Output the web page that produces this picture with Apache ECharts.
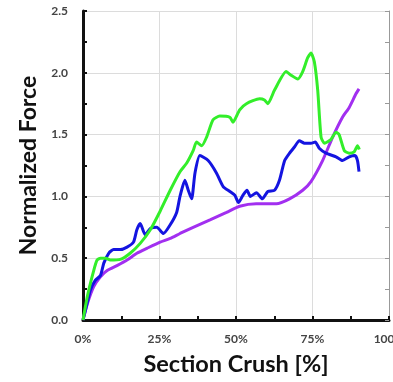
<!DOCTYPE html>
<html><head><meta charset="utf-8">
<script src="https://cdn.jsdelivr.net/npm/echarts@6/dist/echarts.min.js"></script>
<style>html,body{margin:0;padding:0;background:#fff}#c{width:393px;height:382px}</style>
</head><body><div id="c"></div>
<script>
const greenX = [0,1.5,3.5,4.6,5.7,7.5,8.9,12.2,15.4,18.7,22,25.2,28.5,31.7,33.9,36,37.1,38.8,40.4,42.5,44.7,48,49,51.2,53.4,57.7,59.3,60.4,62.6,66.4,68,70.2,71.8,73.4,74.5,75.6,76.7,77.8,78.9,81,82.7,83.7,85.4,87,88.6,89.7,90.3];
const greenY = [0,0.2,0.40,0.485,0.5,0.5,0.485,0.49,0.54,0.62,0.73,0.88,1.05,1.2,1.27,1.37,1.44,1.41,1.48,1.62,1.65,1.64,1.6,1.70,1.75,1.79,1.78,1.75,1.86,2.01,1.98,1.95,2.01,2.12,2.16,2.09,1.86,1.48,1.43,1.46,1.52,1.50,1.37,1.35,1.36,1.41,1.38];
const blueX = [0,1.5,2.4,4,5.7,6.8,8.4,10,12.2,14.4,16.5,17.6,18.7,20.3,22,24.1,26.3,28.5,30.6,31.7,33.3,34.4,35.5,36.6,38.2,40.9,43.6,45.8,48,49.6,50.8,52.3,53.6,54.7,56.7,58.6,60.4,62.6,64.2,65.9,67.5,69.1,70.7,72.4,74.5,75.9,77.2,79.4,82.7,84.8,87,88.9,89.7,90.2];
const blueY = [0,0.15,0.24,0.32,0.36,0.46,0.54,0.57,0.57,0.59,0.63,0.73,0.78,0.69,0.74,0.75,0.70,0.77,0.87,1.0,1.13,1.05,0.98,1.19,1.33,1.29,1.19,1.08,1.04,1.01,0.95,1.01,1.05,1.0,1.03,0.98,1.04,1.05,1.13,1.29,1.35,1.40,1.45,1.43,1.43,1.44,1.39,1.35,1.32,1.29,1.32,1.33,1.29,1.20];
const purpleX = [0,1.4,3.5,5.7,7.9,11.1,14.4,17.6,20.9,25.2,28.5,31.7,36,41.5,46.9,51.2,56.6,63.2,67.5,71.8,74.5,78.3,81.6,84.8,87,89.2,90.2];
const purpleY = [0,0.13,0.27,0.35,0.40,0.44,0.485,0.54,0.58,0.63,0.66,0.70,0.75,0.81,0.87,0.92,0.94,0.94,0.98,1.05,1.12,1.29,1.48,1.64,1.72,1.83,1.87];
const xTicks = [0,25,50,75,100];
const yTicks = [0,0.5,1.0,1.5,2.0,2.5];

const zip = (xs, ys) => xs.map((x, i) => [x, ys[i]]);
const font = 'Lato, "Open Sans", sans-serif';
const chart = echarts.init(document.getElementById('c'));
const lineS = (name, xs, ys, color) => ({
  name, type: 'line', data: zip(xs, ys), showSymbol: false, smooth: 0.2,
  lineStyle: { color, width: 3 }, itemStyle: { color }, z: 3
});
chart.setOption({
  animation: false,
  grid: { left: 83, right: 4, top: 11, bottom: 62, containLabel: false, outerBoundsMode: 'none' },
  xAxis: {
    type: 'value', min: xTicks[0], max: xTicks[xTicks.length-1], interval: 25,
    name: 'Section Crush [%]', nameLocation: 'middle', nameGap: 32,
    nameTextStyle: { fontFamily: font, fontWeight: 'bold', fontSize: 23.5, color: '#111' },
    axisLine: { lineStyle: { color: '#111', width: 3 } },
    axisTick: { inside: true, length: 4, lineStyle: { color: '#111', width: 2 } },
    minorTick: { show: true, splitNumber: 2, length: 4, lineStyle: { color: '#111', width: 2 } },
    axisLabel: { formatter: '{value}%', margin: 13, fontFamily: font, fontWeight: 'bold', fontSize: 12, color: '#444' },
    splitLine: { show: true, lineStyle: { color: '#dcdcdc', width: 1 } }
  },
  yAxis: [{
    type: 'value', min: yTicks[0], max: yTicks[yTicks.length-1], interval: 0.5,
    name: 'Normalized Force', nameLocation: 'middle', nameGap: 43,
    nameTextStyle: { fontFamily: font, fontWeight: 'bold', fontSize: 23, color: '#111' },
    axisLine: { show: true, lineStyle: { color: '#111', width: 3 } },
    axisTick: { show: true, inside: true, length: 4, lineStyle: { color: '#111', width: 2 } },
    minorTick: { show: true, splitNumber: 2, length: 4, lineStyle: { color: '#111', width: 2 } },
    axisLabel: { formatter: v => v.toFixed(1), margin: 15, fontFamily: font, fontWeight: 'bold', fontSize: 12, color: '#444' },
    splitLine: { show: true, lineStyle: { color: '#dcdcdc', width: 1 } }
  }, {
    type: 'value', position: 'right', min: 0, max: 2.5, interval: 0.25,
    axisLine: { show: true, lineStyle: { color: '#999', width: 1 } },
    axisTick: { show: true, inside: true, length: 4, lineStyle: { color: '#999', width: 1 } },
    axisLabel: { show: false }, splitLine: { show: false }
  }],
  series: [
    lineS('purple', purpleX, purpleY, '#a22ff0'),
    lineS('blue', blueX, blueY, '#1414e0'),
    lineS('green', greenX, greenY, '#33ee2a')
  ]
});
</script></body></html>
